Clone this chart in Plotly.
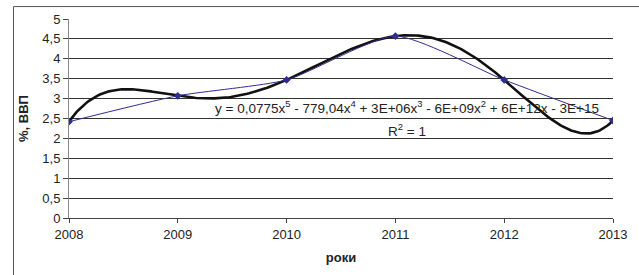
import numpy as np
import plotly.graph_objects as go

years = [2008, 2009, 2010, 2011, 2012, 2013]
values = [2.42, 3.07, 3.47, 4.57, 3.47, 2.45]
y_ticks = [0, 0.5, 1, 1.5, 2, 2.5, 3, 3.5, 4, 4.5, 5]
y_tick_labels = ["0", "0,5", "1", "1,5", "2", "2,5", "3", "3,5", "4", "4,5", "5"]
equation = "y = 0,0775x<sup>5</sup> - 779,04x<sup>4</sup> + 3E+06x<sup>3</sup> - 6E+09x<sup>2</sup> + 6E+12x - 3E+15"
r2_text = "R<sup>2</sup> = 1"

# polynomial (5th order) trendline through the data, as in the original chart
xs = np.array(years, dtype=float) - years[0]
coef = np.polyfit(xs, np.array(values), 5)
xt = np.linspace(xs[0], xs[-1], 300)
yt = np.polyval(coef, xt)

FONT = "Liberation Sans, Arial, sans-serif"

fig = go.Figure()
fig.add_trace(go.Scatter(x=xt + years[0], y=yt, mode="lines",
                         line=dict(color="#111111", width=2.6), hoverinfo="skip"))
fig.add_trace(go.Scatter(x=years, y=values, mode="lines+markers",
                         line=dict(color="#2e2e8f", width=1, shape="spline", smoothing=0.6),
                         marker=dict(symbol="diamond", size=6, color="#2e2e8f")))

fig.add_annotation(x=(410 - 69) / 549, y=2.78, xref="paper", yref="y", text=equation,
                   showarrow=False, font=dict(family=FONT, size=13.5, color="#222"),
                   xanchor="center", yanchor="middle")
fig.add_annotation(x=2011.11, y=2.2, xref="x", yref="y", text=r2_text,
                   showarrow=False, font=dict(family=FONT, size=13.5, color="#222"),
                   xanchor="center", yanchor="middle")

# outer chart border
fig.add_shape(type="rect", xref="paper", yref="paper",
              x0=(13 - 69) / 549, x1=(660 - 69) / 549,
              y0=(219 - 300) / 200, y1=(219 - 6.5) / 200,
              line=dict(color="#555", width=1), layer="below")

fig.update_layout(
    width=639, height=275,
    margin=dict(l=69, r=21, t=19, b=56),
    paper_bgcolor="white", plot_bgcolor="white",
    showlegend=False,
    font=dict(family=FONT, size=13, color="#222"),
)
fig.update_xaxes(range=[2008, 2013], tickvals=years, ticktext=[str(y) for y in years],
                 showgrid=False, showline=True, linecolor="#444", linewidth=1,
                 ticks="outside", ticklen=4, tickcolor="#444", zeroline=False,
                 tickfont=dict(size=13),
                 title=dict(text="<b>роки</b>", font=dict(family=FONT, size=13), standoff=12))
fig.update_yaxes(range=[0, 5], tickvals=y_ticks, ticktext=y_tick_labels,
                 showgrid=True, gridcolor="#333", gridwidth=1,
                 showline=True, linecolor="#888", linewidth=1,
                 ticks="outside", ticklen=5, tickcolor="#444", zeroline=False,
                 tickfont=dict(size=13),
                 title=dict(text="<b>%, ВВП</b>", font=dict(family=FONT, size=13), standoff=10))

fig.write_html("out.html",
               config={"displayModeBar": False, "staticPlot": True},
               post_script="document.body.style.margin='0';document.body.style.overflow='hidden';")
